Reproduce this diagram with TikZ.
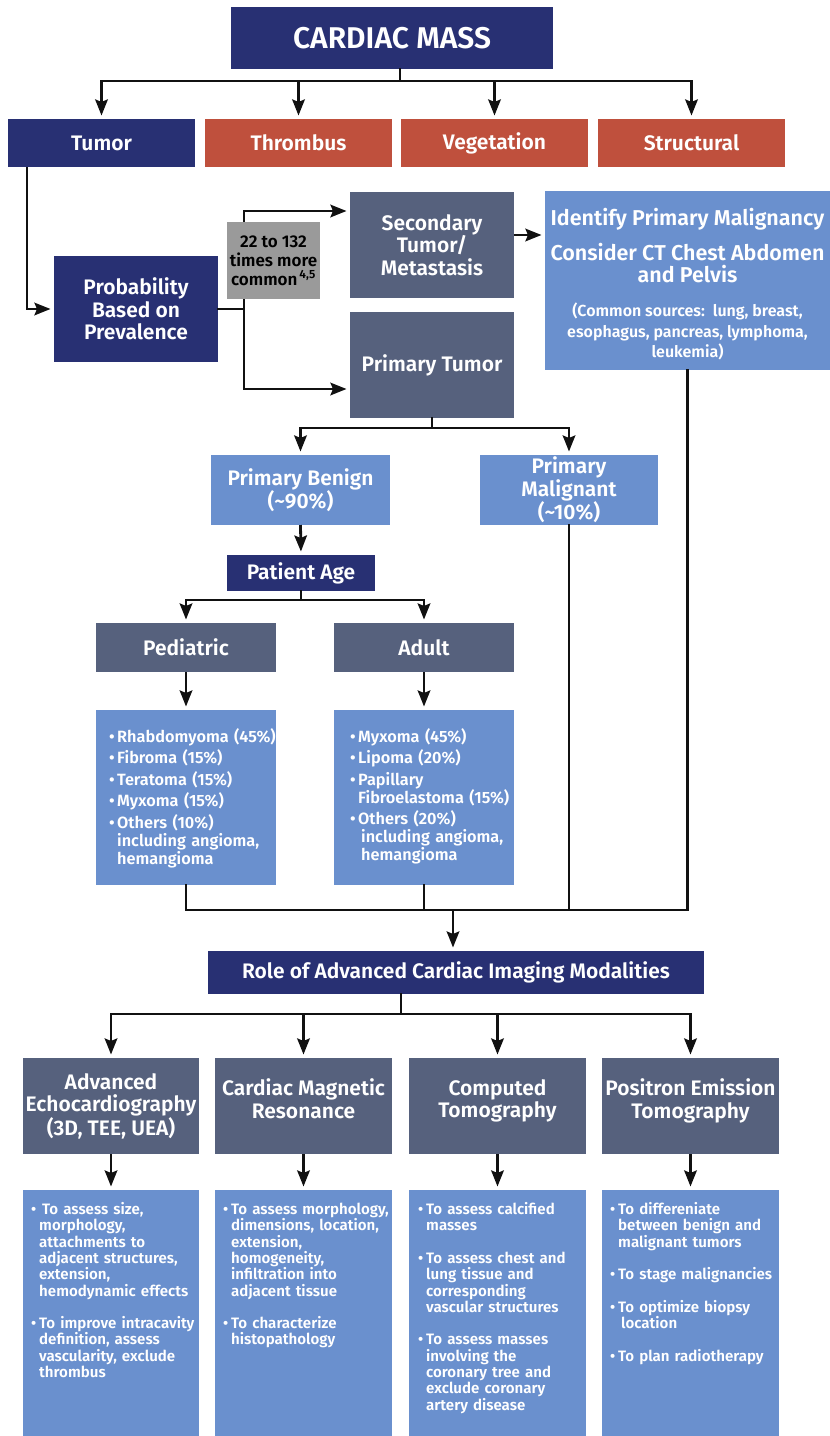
\documentclass[tikz,border=0pt]{standalone}
\usepackage{fontspec}
\IfFontExistsTF{Fira Sans SemiBold}{\setmainfont{Fira Sans}[BoldFont={Fira Sans SemiBold}]}{\setmainfont{Fira Sans}}
\usetikzlibrary{arrows.meta,calc}
\definecolor{navy}{HTML}{283073}
\definecolor{rust}{HTML}{BF503D}
\definecolor{slate}{HTML}{56617D}
\definecolor{sky}{HTML}{6A90CE}
\definecolor{greybox}{HTML}{9A9A9A}
\definecolor{ink}{HTML}{111111}
\newcommand\itm[2][8pt]{\par\hangindent=#1\hangafter=1\noindent\hbox to #1{\textbullet\hfil}#2\par}
\newcommand\tightls{\lineskiplimit=-20pt\relax}
\begin{document}
\begin{tikzpicture}[x=1pt,y=-1pt,
  box/.style={draw=none, inner sep=2pt, outer sep=0pt, align=center, text=white, font=\bfseries\fontsize{21}{22.5}\selectfont, anchor=north west},
  navybox/.style={box, fill=navy},
  rustbox/.style={box, fill=rust},
  slatebox/.style={box, fill=slate},
  skybox/.style={box, fill=sky},
  ln/.style={draw=ink, line width=2.8pt, line cap=rect},
  arr/.style={draw=ink, line width=2.8pt, shorten >=3.5pt, -{Stealth[length=16pt,width=12.5pt,inset=2.5pt]}},
  lst/.style={inner sep=0pt, anchor=north west, align=left, text width=172pt, text=white, font={\bfseries\fontsize{16.3}{18}\selectfont\tightls}},
  cnt/.style={inner sep=0pt, anchor=north west, align=left, text width=172pt, text=white, font={\bfseries\fontsize{15.1}{16.3}\selectfont\tightls}},
]
\useasboundingbox (0,0) rectangle (830,1436);

% top
\node[navybox, minimum width=322pt, minimum height=62pt, font=\bfseries\fontsize{30}{32}\selectfont] (mass) at (231,7) {CARDIAC MASS};
\node[navybox, minimum width=187pt, minimum height=48pt] (tumor) at (8,119) {Tumor};
\node[rustbox, minimum width=187pt, minimum height=48pt] (thromb) at (205,119) {Thrombus};
\node[rustbox, minimum width=187pt, minimum height=48pt] (veg) at (401,119) {Vegetation};
\node[rustbox, minimum width=187pt, minimum height=48pt] (struct) at (598,119) {Structural};

\coordinate (topbar) at (400,81);
\draw[ln] (mass.south -| topbar) -- (topbar);
\draw[ln] (tumor.north |- topbar) -- (struct.north |- topbar);
\foreach \n in {tumor,thromb,veg,struct} \draw[arr] (\n.north |- topbar) -- (\n.north);

% probability
\node[navybox, minimum width=164pt, minimum height=106pt] (prob) at (54,256) {Probability\\Based on\\Prevalence};
\draw[arr] ($(tumor.south west)+(19,0)$) |- (prob.west);

\node[slatebox, minimum width=164pt, minimum height=106pt] (sec) at (350,192) {Secondary\\Tumor/\\Metastasis};
\node[slatebox, minimum width=164pt, minimum height=106pt] (prim) at (350,312) {Primary Tumor};
\coordinate (pj) at (244,0);
\coordinate (s0) at ($(sec.north west)+(0,19)$);
\coordinate (p0) at ($(prim.south west)+(0,-29)$);
\draw[ln] (prob.east) -- (prob.east -| pj);
\draw[arr] (prob.east -| pj) |- (s0);
\draw[arr] (prob.east -| pj) |- (p0);
\node[box, fill=greybox, text=black, minimum width=93pt, minimum height=77pt, inner sep=1pt, font=\bfseries\fontsize{17}{19}\selectfont] (ratio) at (227,222) {22 to 132\\times more\\common\textsuperscript{\,4,5}};

\node[skybox, minimum width=285pt, minimum height=179pt, inner sep=0pt] (ident) at (545,191) {};
\node[box, anchor=north, inner sep=0pt, font=\bfseries\fontsize{21.5}{22.5}\selectfont] (identt) at ($(ident.north)+(0,17)$) {Identify Primary Malignancy\\[12.5pt]Consider CT Chest Abdomen\\and Pelvis\\[11.5pt]{\fontsize{16}{20.5}\selectfont (Common sources:\ \ lung, breast,}\\[-2pt]{\fontsize{16}{20.5}\selectfont esophagus, pancreas, lymphoma,}\\[-2.5pt]{\fontsize{16}{20.5}\selectfont leukemia)}};
\coordinate (s1) at ($(sec.east)+(0,-10)$);
\draw[arr] (s1) -- (s1 -| ident.west);

% primary
\node[skybox, minimum width=179pt, minimum height=70pt] (benign) at (211,455) {Primary Benign\\(\textasciitilde90\%)};
\node[skybox, minimum width=178pt, minimum height=70pt] (malig) at (480,455) {Primary\\Malignant\\(\textasciitilde10\%)};
\coordinate (pb) at (0,428);
\draw[ln] (prim.south) -- (prim.south |- pb);
\draw[ln] (benign.north |- pb) -- (malig.north |- pb);
\draw[arr] (benign.north |- pb) -- (benign.north);
\draw[arr] (malig.north |- pb) -- (malig.north);

% age
\node[navybox, minimum width=148pt, minimum height=36pt] (age) at (227,555) {Patient Age};
\draw[arr] (benign.south) -- (age.north);
\node[slatebox, minimum width=180pt, minimum height=49pt] (ped) at (96,623) {Pediatric};
\node[slatebox, minimum width=180pt, minimum height=49pt] (adult) at (334,623) {Adult};
\coordinate (ab) at (0,600);
\draw[ln] (age.south) -- (age.south |- ab);
\draw[ln] (ped.north |- ab) -- (adult.north |- ab);
\draw[arr] (ped.north |- ab) -- (ped.north);
\draw[arr] (adult.north |- ab) -- (adult.north);

\node[skybox, minimum width=180pt, minimum height=175pt] (pedl) at (96,710) {};
\node[skybox, minimum width=180pt, minimum height=175pt] (adl) at (334,710) {};
\node[lst] (pedt) at (109,724) {\itm{Rhabdomyoma (45\%)}\vspace{3.5pt}\itm{Fibroma (15\%)}\vspace{3.5pt}\itm{Teratoma (15\%)}\vspace{3.5pt}\itm{Myxoma (15\%)}\vspace{3.5pt}\itm{Others (10\%)\newline including angioma,\newline hemangioma}};
\node[lst] (adt) at (350,724) {\itm{Myxoma (45\%)}\vspace{3.5pt}\itm{Lipoma (20\%)}\vspace{3.5pt}\itm{Papillary\newline Fibroelastoma (15\%)}\vspace{3.5pt}\itm{Others (20\%)\newline\hspace*{3pt}including angioma,\newline\hspace*{3pt}hemangioma}};
\draw[arr] (ped.south) -- (pedl.north);
\draw[arr] (adult.south) -- (adl.north);

% merge
\coordinate (mb) at (0,910);
\draw[ln] (pedl.south) -- (pedl.south |- mb);
\draw[ln] (adl.south) -- (adl.south |- mb);
\draw[ln] (malig.south) -- (malig.south |- mb);
\draw[ln] (ident.south) -- (ident.south |- mb);
\draw[ln] (pedl.south |- mb) -- (ident.south |- mb);

\node[navybox, minimum width=496pt, minimum height=43pt] (role) at (208,951) {Role of Advanced Cardiac Imaging Modalities};
\coordinate (mj) at (453,910);
\draw[arr] (mj) -- (mj |- role.north);

% modalities
\node[slatebox, minimum width=176pt, minimum height=96pt] (m1) at (23,1058) {Advanced\\Echocardiography\\(3D, TEE, UEA)};
\node[slatebox, minimum width=177pt, minimum height=96pt, text depth=15pt] (m2) at (215,1058) {Cardiac Magnetic\\Resonance};
\node[slatebox, minimum width=177pt, minimum height=96pt, text depth=15pt] (m3) at (409,1058) {Computed\\Tomography};
\node[slatebox, minimum width=177pt, minimum height=96pt, text depth=15pt] (m4) at (602,1058) {Positron Emission\\Tomography};
\coordinate (rj) at (401,0);
\coordinate (rb) at (0,1014);
\draw[ln] (role.south -| rj) -- (rj |- rb);
\draw[ln] (m1.north |- rb) -- (m4.north |- rb);
\foreach \n in {m1,m2,m3,m4} \draw[arr] (\n.north |- rb) -- (\n.north);

\node[skybox, minimum width=176pt, minimum height=246pt] (c1) at (23,1190) {};
\node[skybox, minimum width=177pt, minimum height=246pt] (c2) at (215,1190) {};
\node[skybox, minimum width=177pt, minimum height=246pt] (c3) at (409,1190) {};
\node[skybox, minimum width=177pt, minimum height=246pt] (c4) at (602,1190) {};
\foreach \n in {1,2,3,4} \draw[arr] (m\n.south) -- (c\n.north);

\node[cnt] (t1) at (31,1198) {\itm{\hspace*{3pt}To assess size,\newline morphology,\newline attachments to\newline adjacent structures,\newline extension,\newline hemodynamic effects}\vspace{16.3pt}\itm{To improve intracavity\newline definition, assess\newline vascularity, exclude\newline thrombus}};
\node[cnt] (t2) at (223,1198) {\itm{To assess morphology,\newline dimensions, location,\newline extension,\newline homogeneity,\newline infiltration into\newline adjacent tissue}\vspace{16.3pt}\itm{To characterize\newline histopathology}};
\node[cnt] (t3) at (418,1198) {\itm{To assess calcified\newline masses}\vspace{16.3pt}\itm{To assess chest and\newline lung tissue and\newline corresponding\newline vascular structures}\vspace{16.3pt}\itm{To assess masses\newline involving the\newline coronary tree and\newline exclude coronary\newline artery disease}};
\node[cnt] (t4) at (610,1198) {\itm{To differeniate\newline between benign and\newline malignant tumors}\vspace{16.3pt}\itm{To stage malignancies}\vspace{16.3pt}\itm{To optimize biopsy\newline\hspace*{3pt}location}\vspace{16.3pt}\itm{To plan radiotherapy}};
\end{tikzpicture}
\end{document}
